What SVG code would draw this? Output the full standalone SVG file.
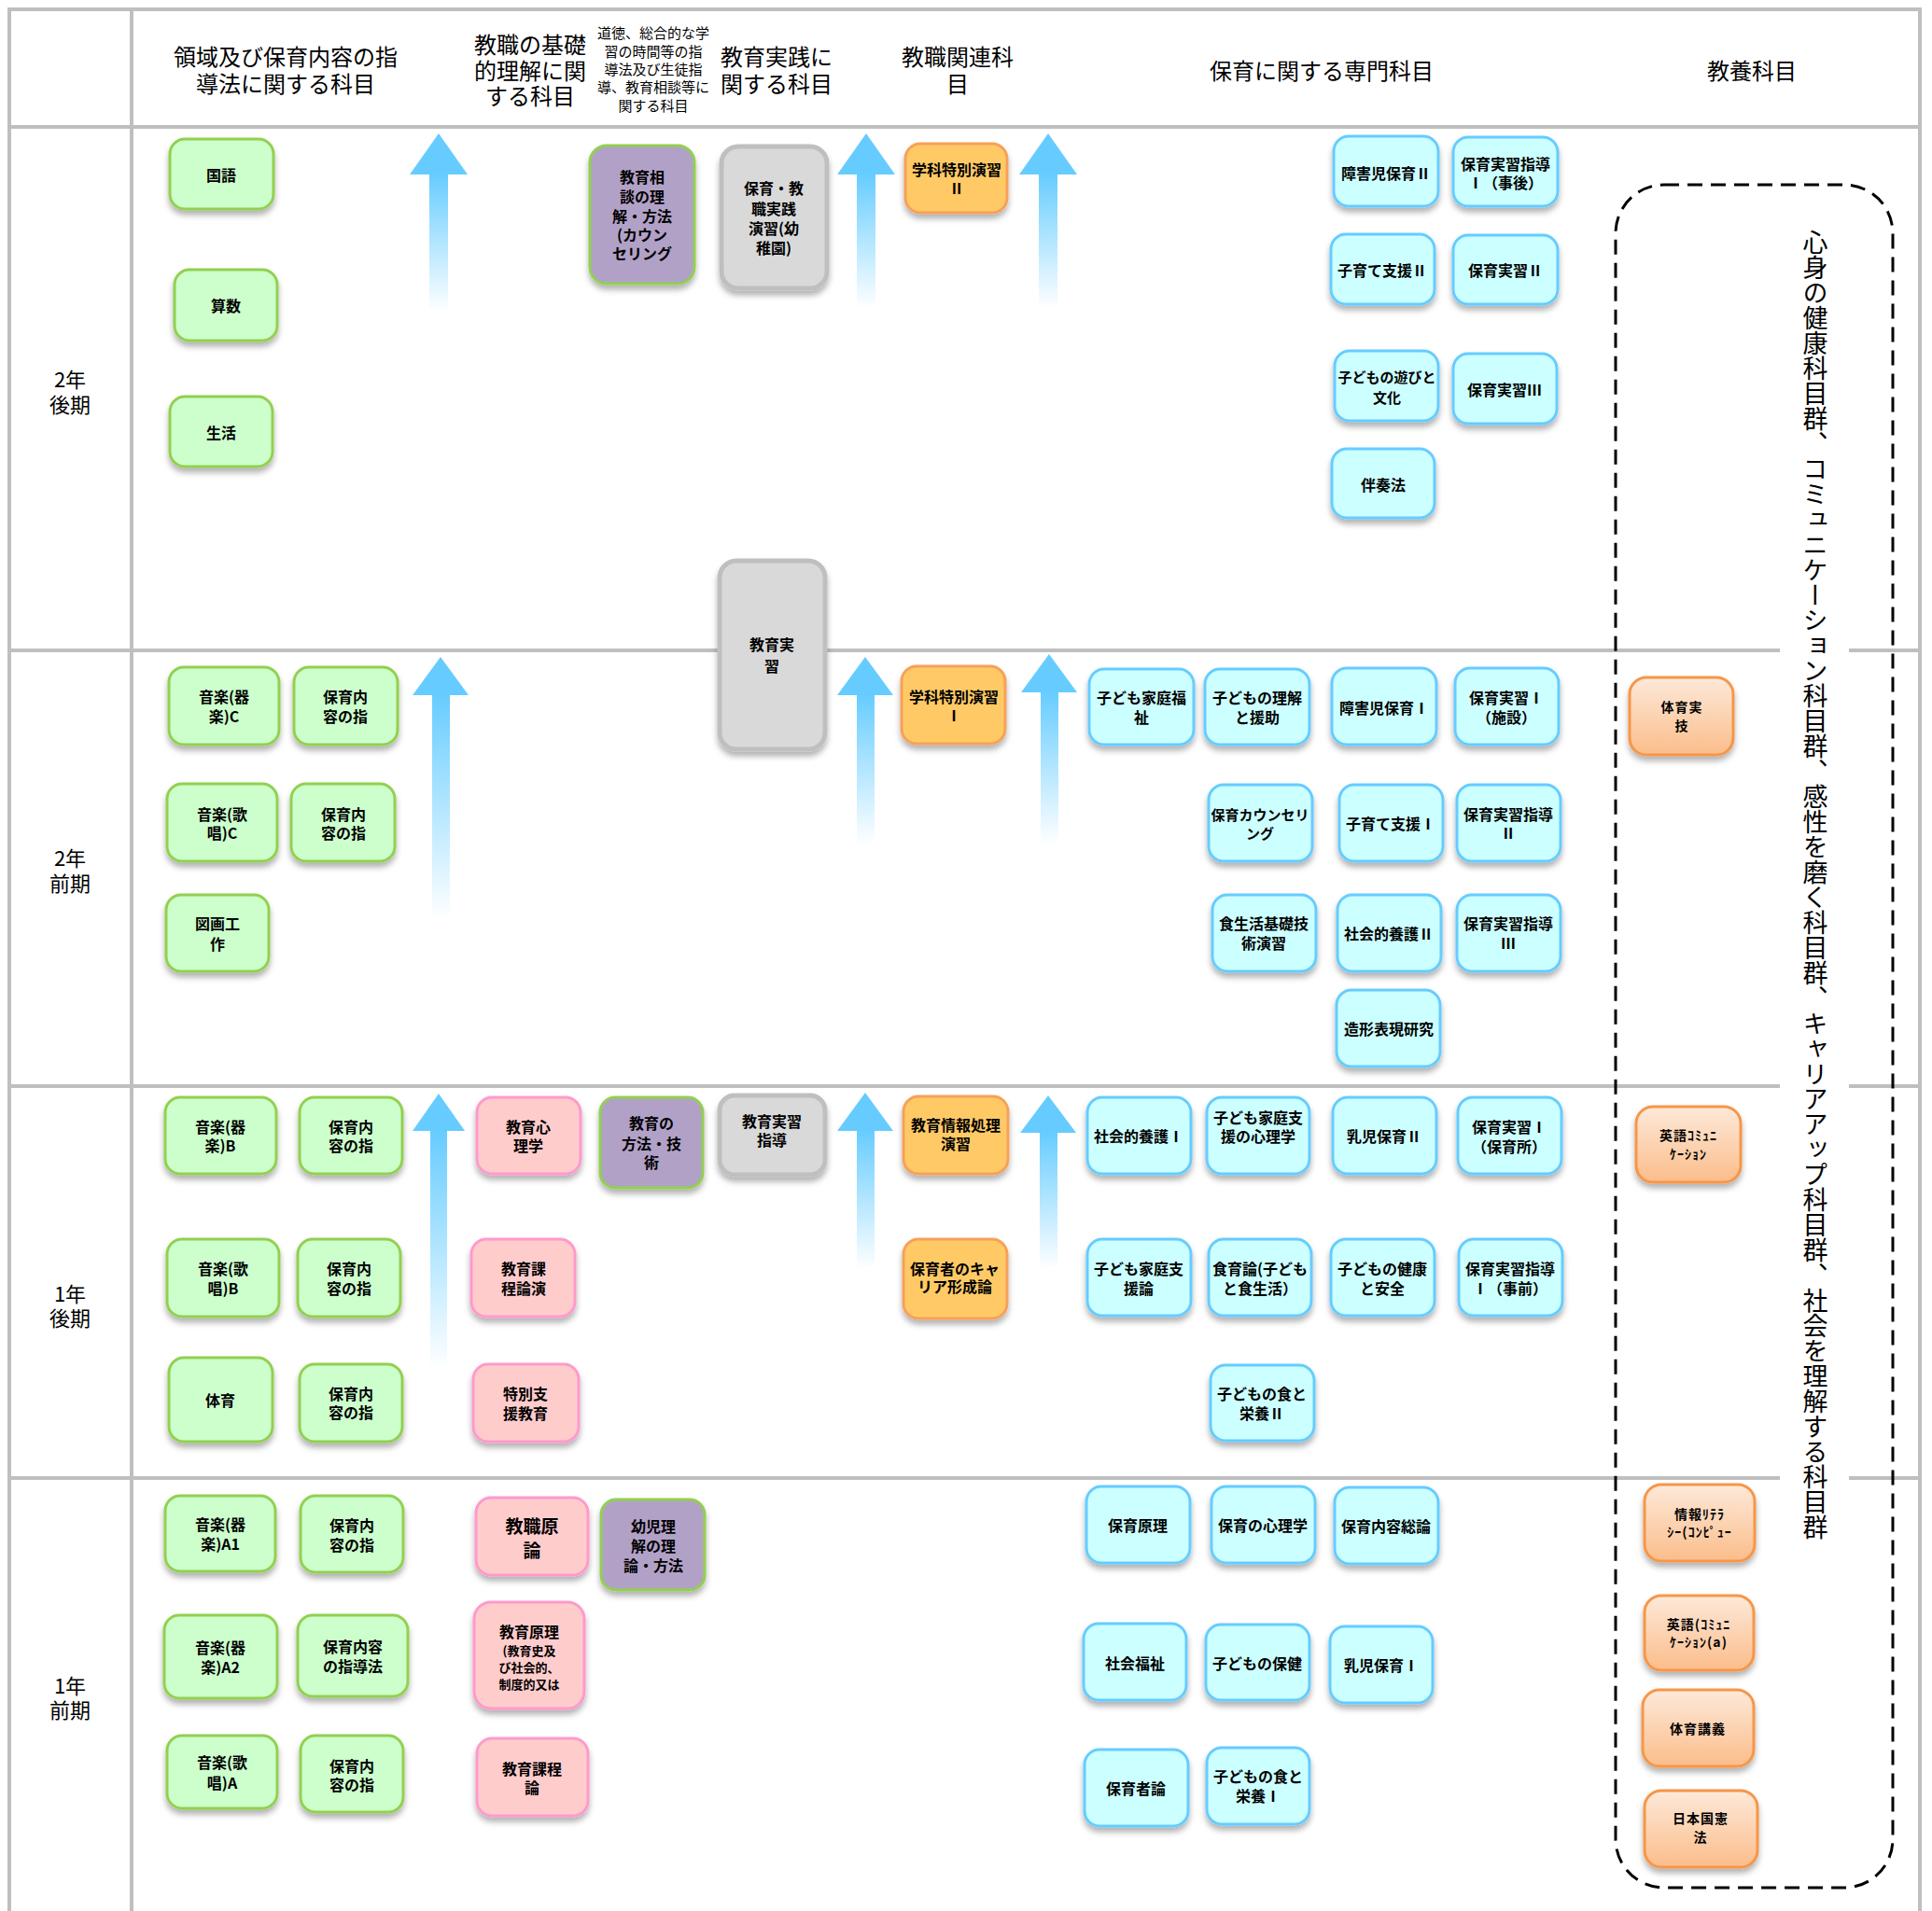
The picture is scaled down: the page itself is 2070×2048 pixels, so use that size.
<svg xmlns="http://www.w3.org/2000/svg" width="2070" height="2048" viewBox="0 0 2070 2048">
<style>
text{font-family:"Noto Sans CJK JP","Noto Sans",sans-serif;fill:#000}
.hd{font-size:24px;text-anchor:middle;dominant-baseline:central}
.hs{font-size:15px;text-anchor:middle;dominant-baseline:central}
.rl{font-size:22px;text-anchor:middle;dominant-baseline:central}
.grid{stroke:#bfbfbf;stroke-width:4;fill:none}
.n rect{stroke-width:3;filter:url(#sh)}
.n text{font-weight:bold;font-size:16px;text-anchor:middle;dominant-baseline:central}
.gr rect{fill:#ccffcc;stroke:#92d050}
.pk rect{fill:#ffcccc;stroke:#ff99cc}
.pu rect{fill:#b2a1c7;stroke:#92d050}
.gy rect{fill:#d9d9d9;stroke:#bfbfbf;stroke-width:5}
.or rect{fill:#ffca66;stroke:#f7a05a}
.cy rect{fill:#ccffff;stroke:#66ccff}
.og rect{fill:url(#ogg);stroke:#f79646}
.og text{font-size:14px;letter-spacing:1px}
.big{font-size:18px}
.arrow polygon{fill:#66ccff}
.arrow rect{fill:url(#fade)}
</style>
<defs>
<filter id="sh" x="-20%" y="-20%" width="140%" height="150%">
<feDropShadow dx="0" dy="5" stdDeviation="3" flood-color="#000" flood-opacity="0.3"/>
</filter>
<linearGradient id="fade" x1="0" y1="0" x2="0" y2="1">
<stop offset="0" stop-color="#66ccff" stop-opacity="1"/>
<stop offset="1" stop-color="#66ccff" stop-opacity="0"/>
</linearGradient>
<linearGradient id="ogg" x1="0" y1="0" x2="0" y2="1">
<stop offset="0" stop-color="#fde9d9"/>
<stop offset="1" stop-color="#fbbd8b"/>
</linearGradient>
</defs>
<rect x="0" y="0" width="2070" height="2048" fill="#fff"/>

<g id="grid">
<line class="grid" x1="10" y1="10" x2="2057" y2="10"/>
<line class="grid" x1="10" y1="8" x2="10" y2="2048"/>
<line class="grid" x1="141" y1="8" x2="141" y2="2048"/>
<line class="grid" x1="2057" y1="8" x2="2057" y2="2048"/>
<line class="grid" x1="10" y1="136" x2="2057" y2="136"/>
<line class="grid" x1="10" y1="697" x2="2057" y2="697"/>
<line class="grid" x1="10" y1="1164" x2="2057" y2="1164"/>
<line class="grid" x1="10" y1="1584" x2="2057" y2="1584"/>
</g>

<g id="headers">
<text class="hd"><tspan x="306" y="59">領域及び保育内容の指</tspan><tspan x="306" y="88">導法に関する科目</tspan></text>
<text class="hd"><tspan x="568" y="46">教職の基礎</tspan><tspan x="568" y="74">的理解に関</tspan><tspan x="568" y="101">する科目</tspan></text>
<text class="hs"><tspan x="700" y="34">道徳、総合的な学</tspan><tspan x="700" y="54">習の時間等の指</tspan><tspan x="700" y="73">導法及び生徒指</tspan><tspan x="700" y="92">導、教育相談等に</tspan><tspan x="700" y="112">関する科目</tspan></text>
<text class="hd"><tspan x="832" y="59">教育実践に</tspan><tspan x="832" y="88">関する科目</tspan></text>
<text class="hd"><tspan x="1026" y="59">教職関連科</tspan><tspan x="1026" y="88">目</tspan></text>
<text class="hd" x="1416" y="74">保育に関する専門科目</text>
<text class="hd" x="1877" y="74">教養科目</text>
</g>

<g id="rowlabels">
<text class="rl"><tspan x="75" y="405">2年</tspan><tspan x="75" y="432">後期</tspan></text>
<text class="rl"><tspan x="75" y="918">2年</tspan><tspan x="75" y="945">前期</tspan></text>
<text class="rl"><tspan x="75" y="1385">1年</tspan><tspan x="75" y="1411">後期</tspan></text>
<text class="rl"><tspan x="75" y="1805">1年</tspan><tspan x="75" y="1831">前期</tspan></text>
</g>

<g id="kyoyo-group">
<rect x="1907" y="240" width="74" height="1410" fill="#fff"/>
<rect x="1731" y="198" width="297" height="1825" rx="52" ry="52" fill="none" stroke="#000" stroke-width="3" stroke-dasharray="16 9"/>
<text x="1945" y="246" font-size="27" style="writing-mode:vertical-rl">心身の健康科目群、コミュニケーション科目群、感性を磨く科目群、キャリアアップ科目群、社会を理解する科目群</text>
</g>

<g id="connectors">
<g class="arrow"><polygon points="470,143 439,187 501,187"/><rect x="460" y="186" width="20" height="148"/></g>
<g class="arrow"><polygon points="928,143 897,187 959,187"/><rect x="918" y="186" width="20" height="144"/></g>
<g class="arrow"><polygon points="1123,143 1092,187 1154,187"/><rect x="1113" y="186" width="20" height="144"/></g>
<g class="arrow"><polygon points="472,704 442,745 502,745"/><rect x="463" y="744" width="19" height="241"/></g>
<g class="arrow"><polygon points="927,704 897,745 957,745"/><rect x="918" y="744" width="19" height="161"/></g>
<g class="arrow"><polygon points="1124,701 1094,742 1154,742"/><rect x="1115" y="741" width="19" height="164"/></g>
<g class="arrow"><polygon points="470,1172 442,1212 498,1212"/><rect x="461" y="1211" width="18" height="256"/></g>
<g class="arrow"><polygon points="927,1171 897,1212 957,1212"/><rect x="918" y="1211" width="19" height="149"/></g>
<g class="arrow"><polygon points="1123,1174 1093,1214 1153,1214"/><rect x="1114" y="1213" width="19" height="147"/></g>
</g>

<!-- Green nodes -->
<g id="n-kokugo" class="n gr"><rect x="182" y="149" width="111" height="75" rx="16"/><text class="big" x="237" y="187">国語</text></g>
<g id="n-sansu" class="n gr"><rect x="187" y="289" width="110" height="76" rx="16"/><text class="big" x="242" y="327">算数</text></g>
<g id="n-seikatsu" class="n gr"><rect x="182" y="425" width="110" height="75" rx="16"/><text class="big" x="237" y="463">生活</text></g>

<g id="n-kigaku-c" class="n gr"><rect x="181" y="715" width="118" height="83" rx="16"/><text><tspan x="240" y="746">音楽(器</tspan><tspan x="240" y="767">楽)C</tspan></text></g>
<g id="n-hoiku-c1" class="n gr"><rect x="315" y="715" width="111" height="83" rx="16"/><text><tspan x="370" y="746">保育内</tspan><tspan x="370" y="767">容の指</tspan></text></g>
<g id="n-kasho-c" class="n gr"><rect x="179" y="840" width="118" height="83" rx="16"/><text><tspan x="238" y="872">音楽(歌</tspan><tspan x="238" y="892">唱)C</tspan></text></g>
<g id="n-hoiku-c2" class="n gr"><rect x="312" y="840" width="111" height="83" rx="16"/><text><tspan x="368" y="872">保育内</tspan><tspan x="368" y="892">容の指</tspan></text></g>
<g id="n-zuga" class="n gr"><rect x="178" y="959" width="110" height="82" rx="16"/><text><tspan x="233" y="989">図画工</tspan><tspan x="233" y="1011">作</tspan></text></g>

<g id="n-kigaku-b" class="n gr"><rect x="177" y="1176" width="119" height="82" rx="16"/><text><tspan x="236" y="1207">音楽(器</tspan><tspan x="236" y="1227">楽)B</tspan></text></g>
<g id="n-hoiku-b1" class="n gr"><rect x="321" y="1176" width="110" height="82" rx="16"/><text><tspan x="376" y="1207">保育内</tspan><tspan x="376" y="1227">容の指</tspan></text></g>
<g id="n-kasho-b" class="n gr"><rect x="179" y="1328" width="120" height="83" rx="16"/><text><tspan x="239" y="1359">音楽(歌</tspan><tspan x="239" y="1380">唱)B</tspan></text></g>
<g id="n-hoiku-b2" class="n gr"><rect x="319" y="1328" width="110" height="83" rx="16"/><text><tspan x="374" y="1359">保育内</tspan><tspan x="374" y="1380">容の指</tspan></text></g>
<g id="n-taiiku" class="n gr"><rect x="181" y="1455" width="111" height="90" rx="16"/><text class="big" x="236" y="1500">体育</text></g>
<g id="n-hoiku-b3" class="n gr"><rect x="321" y="1462" width="110" height="83" rx="16"/><text><tspan x="376" y="1493">保育内</tspan><tspan x="376" y="1513">容の指</tspan></text></g>

<g id="n-kigaku-a1" class="n gr"><rect x="177" y="1603" width="118" height="81" rx="16"/><text><tspan x="236" y="1633">音楽(器</tspan><tspan x="236" y="1654">楽)A1</tspan></text></g>
<g id="n-hoiku-a1" class="n gr"><rect x="322" y="1603" width="110" height="82" rx="16"/><text><tspan x="377" y="1634">保育内</tspan><tspan x="377" y="1655">容の指</tspan></text></g>
<g id="n-kigaku-a2" class="n gr"><rect x="176" y="1731" width="121" height="89" rx="16"/><text><tspan x="236" y="1765">音楽(器</tspan><tspan x="236" y="1786">楽)A2</tspan></text></g>
<g id="n-hoiku-a2" class="n gr"><rect x="319" y="1731" width="118" height="87" rx="16"/><text><tspan x="378" y="1764">保育内容</tspan><tspan x="378" y="1785">の指導法</tspan></text></g>
<g id="n-kasho-a" class="n gr"><rect x="179" y="1860" width="118" height="78" rx="16"/><text><tspan x="238" y="1888">音楽(歌</tspan><tspan x="238" y="1910">唱)A</tspan></text></g>
<g id="n-hoiku-a3" class="n gr"><rect x="322" y="1860" width="110" height="82" rx="16"/><text><tspan x="377" y="1892">保育内</tspan><tspan x="377" y="1912">容の指</tspan></text></g>

<!-- Pink nodes -->
<g id="n-kyoiku-shinri" class="n pk"><rect x="511" y="1176" width="111" height="82" rx="16"/><text><tspan x="566" y="1207">教育心</tspan><tspan x="566" y="1227">理学</tspan></text></g>
<g id="n-kyoiku-katei-en" class="n pk"><rect x="505" y="1328" width="111" height="83" rx="16"/><text><tspan x="561" y="1359">教育課</tspan><tspan x="561" y="1380">程論演</tspan></text></g>
<g id="n-tokubetsu" class="n pk"><rect x="507" y="1462" width="113" height="83" rx="16"/><text><tspan x="563" y="1493">特別支</tspan><tspan x="563" y="1514">援教育</tspan></text></g>
<g id="n-kyoshoku-genron" class="n pk"><rect x="510" y="1605" width="120" height="83" rx="16"/><text style="font-size:19px"><tspan x="570" y="1634">教職原</tspan><tspan x="570" y="1660">論</tspan></text></g>
<g id="n-kyoiku-genri" class="n pk"><rect x="508" y="1717" width="118" height="114" rx="18"/><text><tspan x="567" y="1748">教育原理</tspan><tspan x="567" y="1768" style="font-size:13px">(教育史及</tspan><tspan x="567" y="1786" style="font-size:13px">び社会的、</tspan><tspan x="567" y="1804" style="font-size:13px">制度的又は</tspan></text></g>
<g id="n-kyoiku-katei" class="n pk"><rect x="511" y="1863" width="119" height="83" rx="16"/><text><tspan x="570" y="1895">教育課程</tspan><tspan x="570" y="1915">論</tspan></text></g>

<!-- Purple nodes -->
<g id="n-soudan" class="n pu"><rect x="632" y="156" width="112" height="148" rx="18"/><text><tspan x="688" y="189">教育相</tspan><tspan x="688" y="210">談の理</tspan><tspan x="688" y="231">解・方法</tspan><tspan x="688" y="251">(カウン</tspan><tspan x="688" y="271">セリング</tspan></text></g>
<g id="n-houhou" class="n pu"><rect x="643" y="1176" width="110" height="97" rx="16"/><text><tspan x="698" y="1203">教育の</tspan><tspan x="698" y="1225">方法・技</tspan><tspan x="698" y="1245">術</tspan></text></g>
<g id="n-yoji" class="n pu"><rect x="644" y="1607" width="111" height="97" rx="16"/><text><tspan x="700" y="1635">幼児理</tspan><tspan x="700" y="1656">解の理</tspan><tspan x="700" y="1677">論・方法</tspan></text></g>

<!-- Gray nodes -->
<g id="n-jissen" class="n gy"><rect x="773" y="157" width="113" height="152" rx="18"/><text><tspan x="829" y="201">保育・教</tspan><tspan x="829" y="223">職実践</tspan><tspan x="829" y="244">演習(幼</tspan><tspan x="829" y="265">稚園)</tspan></text></g>
<g id="n-kyoiku-jisshu" class="n gy"><rect x="771" y="601" width="113" height="202" rx="18"/><text><tspan x="827" y="690">教育実</tspan><tspan x="827" y="713">習</tspan></text></g>
<g id="n-jisshu-shido" class="n gy"><rect x="771" y="1174" width="113" height="85" rx="16"/><text><tspan x="827" y="1201">教育実習</tspan><tspan x="827" y="1221">指導</tspan></text></g>

<!-- Orange nodes -->
<g id="n-gakka2" class="n or"><rect x="970" y="154" width="109" height="74" rx="16"/><text><tspan x="1025" y="181">学科特別演習</tspan><tspan x="1025" y="201">Ⅱ</tspan></text></g>
<g id="n-gakka1" class="n or"><rect x="966" y="714" width="111" height="83" rx="16"/><text><tspan x="1022" y="746">学科特別演習</tspan><tspan x="1022" y="766">Ⅰ</tspan></text></g>
<g id="n-joho-shori" class="n or"><rect x="968" y="1175" width="112" height="83" rx="16"/><text><tspan x="1024" y="1205">教育情報処理</tspan><tspan x="1024" y="1225">演習</tspan></text></g>
<g id="n-career" class="n or"><rect x="968" y="1328" width="111" height="85" rx="16"/><text><tspan x="1023" y="1359">保育者のキャ</tspan><tspan x="1023" y="1378">リア形成論</tspan></text></g>

<!-- Cyan nodes 2年後期 -->
<g id="n-shogai2" class="n cy"><rect x="1429" y="146" width="112" height="75" rx="16"/><text x="1485" y="185">障害児保育Ⅱ</text></g>
<g id="n-shido1-jigo" class="n cy"><rect x="1557" y="147" width="112" height="74" rx="16"/><text><tspan x="1613" y="175">保育実習指導</tspan><tspan x="1613" y="195">Ⅰ（事後）</tspan></text></g>
<g id="n-kosodate2" class="n cy"><rect x="1426" y="251" width="111" height="75" rx="16"/><text x="1481" y="289">子育て支援Ⅱ</text></g>
<g id="n-jisshu2" class="n cy"><rect x="1557" y="252" width="112" height="74" rx="16"/><text x="1613" y="289">保育実習Ⅱ</text></g>
<g id="n-asobi" class="n cy"><rect x="1430" y="376" width="111" height="75" rx="16"/><text style="font-size:15px"><tspan x="1486" y="403">子どもの遊びと</tspan><tspan x="1486" y="425">文化</tspan></text></g>
<g id="n-jisshu3" class="n cy"><rect x="1557" y="379" width="111" height="75" rx="16"/><text x="1612" y="417">保育実習Ⅲ</text></g>
<g id="n-bansou" class="n cy"><rect x="1427" y="481" width="110" height="74" rx="16"/><text x="1482" y="519">伴奏法</text></g>

<!-- Cyan nodes 2年前期 -->
<g id="n-katei-fukushi" class="n cy"><rect x="1167" y="717" width="112" height="81" rx="16"/><text><tspan x="1223" y="747">子ども家庭福</tspan><tspan x="1223" y="768">祉</tspan></text></g>
<g id="n-rikai-enjo" class="n cy"><rect x="1291" y="717" width="112" height="81" rx="16"/><text><tspan x="1347" y="747">子どもの理解</tspan><tspan x="1347" y="768">と援助</tspan></text></g>
<g id="n-shogai1" class="n cy"><rect x="1427" y="716" width="112" height="82" rx="16"/><text x="1483" y="758">障害児保育Ⅰ</text></g>
<g id="n-jisshu1-shisetsu" class="n cy"><rect x="1559" y="716" width="111" height="82" rx="16"/><text><tspan x="1614" y="747">保育実習Ⅰ</tspan><tspan x="1614" y="768">（施設）</tspan></text></g>
<g id="n-counseling" class="n cy"><rect x="1295" y="841" width="111" height="82" rx="16"/><text style="font-size:15px"><tspan x="1350" y="872">保育カウンセリ</tspan><tspan x="1350" y="892">ング</tspan></text></g>
<g id="n-kosodate1" class="n cy"><rect x="1435" y="841" width="111" height="82" rx="16"/><text x="1490" y="882">子育て支援Ⅰ</text></g>
<g id="n-shido2" class="n cy"><rect x="1561" y="841" width="111" height="82" rx="16"/><text><tspan x="1616" y="872">保育実習指導</tspan><tspan x="1616" y="892">Ⅱ</tspan></text></g>
<g id="n-shokuseikatsu" class="n cy"><rect x="1299" y="959" width="111" height="82" rx="16"/><text><tspan x="1354" y="989">食生活基礎技</tspan><tspan x="1354" y="1010">術演習</tspan></text></g>
<g id="n-yougo2" class="n cy"><rect x="1433" y="959" width="111" height="82" rx="16"/><text x="1488" y="1000">社会的養護Ⅱ</text></g>
<g id="n-shido3" class="n cy"><rect x="1561" y="959" width="111" height="82" rx="16"/><text><tspan x="1616" y="989">保育実習指導</tspan><tspan x="1616" y="1010">Ⅲ</tspan></text></g>
<g id="n-zoukei" class="n cy"><rect x="1432" y="1061" width="111" height="82" rx="16"/><text x="1488" y="1102">造形表現研究</text></g>

<!-- Cyan nodes 1年後期 -->
<g id="n-yougo1" class="n cy"><rect x="1165" y="1176" width="111" height="82" rx="16"/><text x="1220" y="1217">社会的養護Ⅰ</text></g>
<g id="n-katei-shinri" class="n cy"><rect x="1293" y="1176" width="110" height="82" rx="16"/><text><tspan x="1348" y="1197">子ども家庭支</tspan><tspan x="1348" y="1217">援の心理学</tspan></text></g>
<g id="n-nyuji2" class="n cy"><rect x="1428" y="1176" width="111" height="82" rx="16"/><text x="1483" y="1217">乳児保育Ⅱ</text></g>
<g id="n-jisshu1-hoikusho" class="n cy"><rect x="1562" y="1176" width="111" height="82" rx="16"/><text><tspan x="1617" y="1207">保育実習Ⅰ</tspan><tspan x="1617" y="1228">（保育所）</tspan></text></g>
<g id="n-katei-shien" class="n cy"><rect x="1165" y="1328" width="111" height="82" rx="16"/><text><tspan x="1220" y="1359">子ども家庭支</tspan><tspan x="1220" y="1380">援論</tspan></text></g>
<g id="n-shokuiku" class="n cy"><rect x="1295" y="1328" width="110" height="82" rx="16"/><text><tspan x="1350" y="1359">食育論(子ども</tspan><tspan x="1350" y="1380">と食生活）</tspan></text></g>
<g id="n-kenko" class="n cy"><rect x="1426" y="1328" width="111" height="82" rx="16"/><text><tspan x="1481" y="1359">子どもの健康</tspan><tspan x="1481" y="1380">と安全</tspan></text></g>
<g id="n-shido1-jizen" class="n cy"><rect x="1563" y="1328" width="111" height="82" rx="16"/><text><tspan x="1618" y="1359">保育実習指導</tspan><tspan x="1618" y="1380">Ⅰ（事前）</tspan></text></g>
<g id="n-eiyo2" class="n cy"><rect x="1297" y="1463" width="111" height="81" rx="16"/><text><tspan x="1352" y="1493">子どもの食と</tspan><tspan x="1352" y="1514">栄養Ⅱ</tspan></text></g>

<!-- Cyan nodes 1年前期 -->
<g id="n-hoiku-genri" class="n cy"><rect x="1164" y="1593" width="111" height="82" rx="16"/><text x="1219" y="1634">保育原理</text></g>
<g id="n-hoiku-shinri" class="n cy"><rect x="1298" y="1593" width="111" height="82" rx="16"/><text x="1353" y="1634">保育の心理学</text></g>
<g id="n-soron" class="n cy"><rect x="1430" y="1594" width="111" height="82" rx="16"/><text x="1485" y="1635">保育内容総論</text></g>
<g id="n-shakai-fukushi" class="n cy"><rect x="1161" y="1740" width="110" height="82" rx="16"/><text x="1216" y="1782">社会福祉</text></g>
<g id="n-hoken" class="n cy"><rect x="1292" y="1741" width="111" height="81" rx="16"/><text x="1347" y="1782">子どもの保健</text></g>
<g id="n-nyuji1" class="n cy"><rect x="1425" y="1743" width="110" height="82" rx="16"/><text x="1480" y="1784">乳児保育Ⅰ</text></g>
<g id="n-hoikusharon" class="n cy"><rect x="1162" y="1875" width="111" height="82" rx="16"/><text x="1217" y="1916">保育者論</text></g>
<g id="n-eiyo1" class="n cy"><rect x="1293" y="1873" width="110" height="82" rx="16"/><text><tspan x="1348" y="1903">子どもの食と</tspan><tspan x="1348" y="1924">栄養Ⅰ</tspan></text></g>

<!-- Orange gradient (教養) nodes -->
<g id="n-taiiku-jitsugi" class="n og"><rect x="1746" y="726" width="111" height="83" rx="18"/><text><tspan x="1802" y="757">体育実</tspan><tspan x="1802" y="777">技</tspan></text></g>
<g id="n-eigo-comm" class="n og"><rect x="1753" y="1186" width="112" height="81" rx="18"/><text><tspan x="1809" y="1216">英語ｺﾐｭﾆ</tspan><tspan x="1809" y="1236">ｹｰｼｮﾝ</tspan></text></g>
<g id="n-joho-literacy" class="n og"><rect x="1762" y="1591" width="118" height="82" rx="18"/><text><tspan x="1821" y="1622">情報ﾘﾃﾗ</tspan><tspan x="1821" y="1641">ｼｰ(ｺﾝﾋﾟｭｰ</tspan></text></g>
<g id="n-eigo-a" class="n og"><rect x="1762" y="1710" width="117" height="80" rx="18"/><text><tspan x="1820" y="1740">英語(ｺﾐｭﾆ</tspan><tspan x="1820" y="1759">ｹｰｼｮﾝ(a)</tspan></text></g>
<g id="n-taiiku-kougi" class="n og"><rect x="1760" y="1811" width="119" height="82" rx="18"/><text x="1819" y="1852">体育講義</text></g>
<g id="n-kenpo" class="n og"><rect x="1762" y="1919" width="121" height="82" rx="18"/><text><tspan x="1822" y="1948">日本国憲</tspan><tspan x="1822" y="1968">法</tspan></text></g>
</svg>
